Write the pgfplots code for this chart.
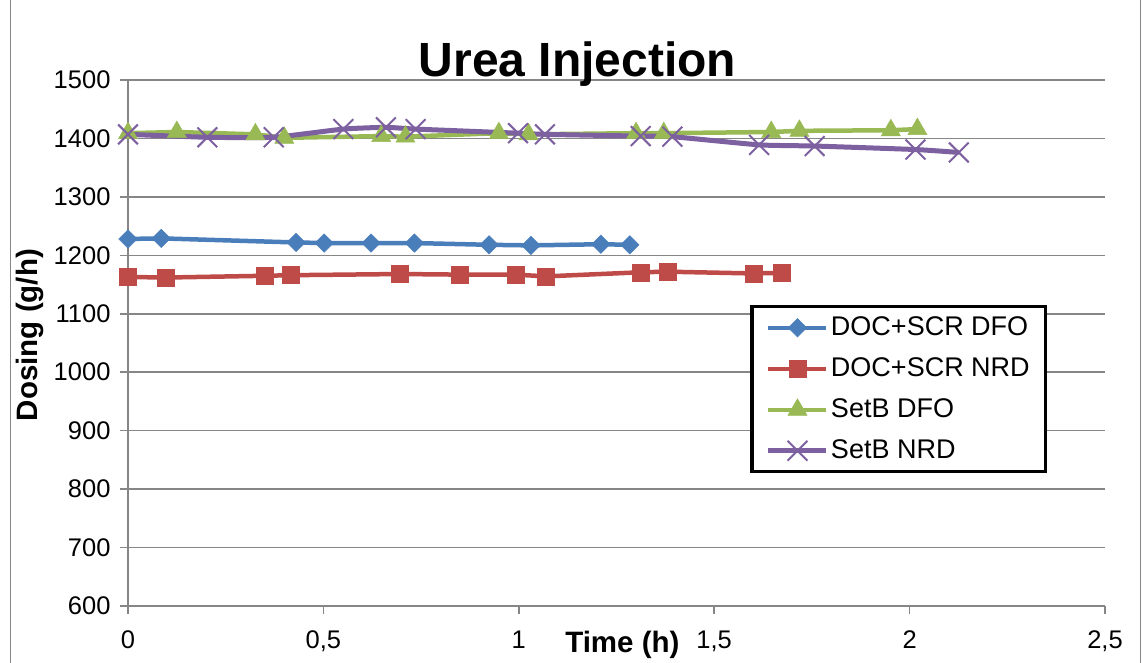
\documentclass[border=0pt]{standalone}
\usepackage{fontspec}
\setmainfont{Liberation Sans}
\usepackage{pgfplots}
\pgfplotsset{compat=1.18}

\definecolor{serBlue}{HTML}{4A7EBB}
\definecolor{serRed}{HTML}{BE4B48}
\definecolor{serGreen}{HTML}{98B954}
\definecolor{serPurple}{HTML}{7D60A0}
\definecolor{gridGray}{HTML}{868686}

\begin{document}
\begin{tikzpicture}
\useasboundingbox (0pt,0pt) rectangle (1146pt,663pt);
\draw[gridGray, line width=1pt] (10pt,-5pt) rectangle (1140pt,668pt);
\begin{axis}[
  at={(128pt,57pt)}, anchor=south west,
  scale only axis, width=977pt, height=526pt,
  xmin=0, xmax=2.5, ymin=600, ymax=1500,
  xtick={0,0.5,1,1.5,2,2.5},
  xticklabels={0,{0,5},1,{1,5},2,{2,5}},
  ytick={600,700,...,1500},
  /pgf/number format/assume math mode=true,
  /pgf/number format/set thousands separator={},
  axis lines=left,
  axis line style={-, draw=gridGray, line width=1.5pt},
  tick align=outside,
  major tick length=8pt,
  tick style={draw=gridGray, line width=1.5pt},
  ymajorgrids,
  grid style={draw=gridGray, line width=1.5pt},
  tick label style={font=\fontsize{25.5}{30}\selectfont},
  yticklabel style={xshift=-6pt},
  xticklabel style={yshift=-13pt},
  clip=false,
  legend cell align=left,
  legend style={at={(0.637,0.572)}, anchor=north west, draw=black,
    line width=3.3pt, fill=white, font=\fontsize{27}{30}\selectfont,
    row sep=15pt, inner xsep=14pt, inner ysep=8pt,
    nodes={inner sep=2pt, text height=19pt, text depth=3pt}},
  legend image code/.code={%
    \draw[mark repeat=2, mark phase=2] plot coordinates {(0pt,0pt) (29pt,0pt) (58pt,0pt)};},
]
% DOC+SCR DFO
\addplot[serBlue, line width=4.5pt, mark=square*, mark size=6.5pt,
  mark options={solid, rotate=45, fill=serBlue, draw=serBlue, line width=0.5pt}]
  coordinates {
  (0,1228) (0.085,1229) (0.43,1222) (0.502,1221) (0.622,1221)
  (0.733,1221) (0.924,1218) (1.031,1217) (1.21,1219) (1.284,1218)};
\addlegendentry{DOC+SCR DFO}
% DOC+SCR NRD
\addplot[serRed, line width=4.5pt, mark=square*, mark size=8.5pt,
  mark options={solid, fill=serRed, draw=serRed, line width=0.5pt}]
  coordinates {
  (0,1163) (0.097,1162) (0.351,1165) (0.417,1166) (0.696,1168)
  (0.85,1167) (0.991,1167) (1.07,1164) (1.313,1171) (1.38,1172)
  (1.60,1169) (1.672,1170)};
\addlegendentry{DOC+SCR NRD}
% SetB DFO
\addplot[serGreen, line width=4.5pt, mark=triangle*, mark size=11pt,
  mark options={solid, fill=serGreen, draw=serGreen, line width=0.5pt}]
  coordinates {
  (0,1409) (0.125,1411) (0.326,1407) (0.40,1401) (0.648,1404)
  (0.71,1403) (0.949,1409) (1.025,1407) (1.30,1409) (1.371,1409)
  (1.646,1411) (1.718,1413) (1.952,1414) (2.02,1416)};
\addlegendentry{SetB DFO}
% SetB NRD
\addplot[serPurple, line width=5pt, smooth, tension=0.3, mark=x, mark size=14pt,
  mark options={solid, draw=serPurple, line width=2pt}]
  coordinates {
  (0,1407) (0.203,1402) (0.373,1402) (0.551,1416) (0.66,1419)
  (0.736,1416) (0.998,1409) (1.067,1407) (1.312,1404) (1.393,1403)
  (1.615,1389) (1.757,1387) (2.015,1381) (2.126,1376)};
\addlegendentry{SetB NRD}

\path (rel axis cs:0.46,1) ++(0pt,3pt)
  node[anchor=base, font=\bfseries\fontsize{48}{52}\selectfont] {Urea Injection};
\path (rel axis cs:0.506,0) ++(0pt,-47pt)
  node[anchor=base, font=\bfseries\fontsize{29.5}{32}\selectfont] {Time (h)};
\path (rel axis cs:0,0.515) ++(-98pt,0pt)
  node[rotate=90, anchor=center, font=\bfseries\fontsize{29.5}{32}\selectfont] {Dosing (g/h)};
\end{axis}
\end{tikzpicture}
\end{document}
